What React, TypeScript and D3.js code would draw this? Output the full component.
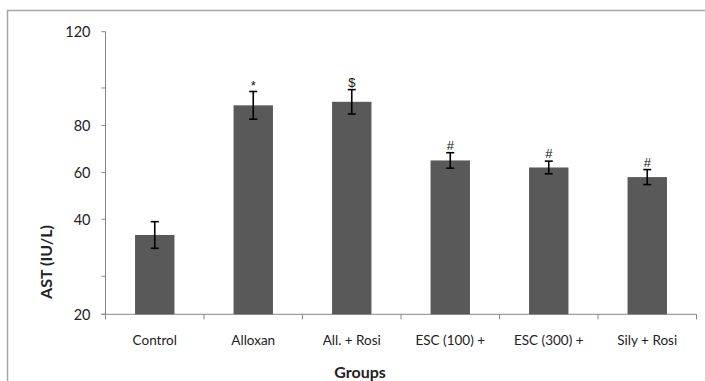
import { useEffect, useRef } from "react";
import * as d3 from "d3";

const groups = ["Control", "Alloxan", "All. + Rosi", "ESC (100) +", "ESC (300) +", "Sily + Rosi"];
const meanAST = [36.7, 88.6, 90.1, 65.1, 62.1, 58.0];
const sdAST = [2.8, 5.9, 5.2, 3.3, 2.7, 3.2];
const marks = ["", "*", "$", "#", "#", "#"];
const yTickLabels = [20, 40, 60, 80, 120];
const yTickMinor = [28, 96];

const W = 705;
const H = 381;

export default function App() {
  const ref = useRef<SVGSVGElement | null>(null);

  useEffect(() => {
    const svg = d3.select(ref.current);
    svg.selectAll("*").remove();

    const left = 105.5;
    const right = 696.5;
    const top = 31.7;
    const bottom = 314.3;
    const font = "Lato, 'Open Sans', sans-serif";

    // outer chart frame (cropped on right/bottom)
    svg
      .append("rect")
      .attr("x", 7.5)
      .attr("y", 10.5)
      .attr("width", W + 20)
      .attr("height", H + 20)
      .attr("fill", "#fff")
      .attr("stroke", "#a6a6a6")
      .attr("stroke-width", 1.5);

    const x = d3
      .scaleBand<string>()
      .domain(groups)
      .range([left, right])
      .paddingInner(0.6)
      .paddingOuter(0.3);
    const step = x.step();

    // the axis in the source is stretched below 40
    const y = d3.scaleLinear().domain([20, 40, 120]).range([bottom, 219.3, top]);

    const g = svg.append("g");

    // y axis
    g.append("line")
      .attr("x1", left)
      .attr("x2", left)
      .attr("y1", top)
      .attr("y2", bottom + 5)
      .attr("stroke", "#868686");
    [...yTickLabels, ...yTickMinor].forEach((v) => {
      g.append("line")
        .attr("x1", left - 4)
        .attr("x2", left)
        .attr("y1", y(v))
        .attr("y2", y(v))
        .attr("stroke", "#868686");
    });
    yTickLabels.forEach((v) => {
      g.append("text")
        .attr("x", left - 15)
        .attr("y", y(v))
        .attr("dy", "0.36em")
        .attr("text-anchor", "end")
        .attr("font-family", font)
        .attr("font-size", 14.5)
        .attr("fill", "#222")
        .text(v);
    });

    // x axis
    g.append("line")
      .attr("x1", left - 4)
      .attr("x2", right)
      .attr("y1", bottom)
      .attr("y2", bottom)
      .attr("stroke", "#868686");
    d3.range(groups.length + 1).forEach((i) => {
      const tx = left + i * step;
      g.append("line")
        .attr("x1", tx)
        .attr("x2", tx)
        .attr("y1", bottom)
        .attr("y2", bottom + 5)
        .attr("stroke", "#868686");
    });

    // bars
    groups.forEach((grp, i) => {
      const bx = x(grp)!;
      const cx = bx + x.bandwidth() / 2;
      g.append("rect")
        .attr("x", bx)
        .attr("y", y(meanAST[i]))
        .attr("width", x.bandwidth())
        .attr("height", bottom - y(meanAST[i]))
        .attr("fill", "#595959");

      const hi = y(meanAST[i] + sdAST[i]);
      const lo = y(meanAST[i] - sdAST[i]);
      const eb = g.append("g").attr("stroke", "#000").attr("stroke-width", 1.6);
      eb.append("line").attr("x1", cx).attr("x2", cx).attr("y1", hi).attr("y2", lo);
      eb.append("line").attr("x1", cx - 4).attr("x2", cx + 4).attr("y1", hi).attr("y2", hi);
      eb.append("line").attr("x1", cx - 4).attr("x2", cx + 4).attr("y1", lo).attr("y2", lo);

      if (marks[i]) {
        g.append("text")
          .attr("x", cx)
          .attr("y", marks[i] === "*" ? hi - 1 : hi - 3)
          .attr("text-anchor", "middle")
          .attr("font-family", "'Liberation Sans', sans-serif")
          .attr("font-size", 13)
          .attr("fill", "#111")
          .text(marks[i]);
      }

      g.append("text")
        .attr("x", cx)
        .attr("y", 345)
        .attr("text-anchor", "middle")
        .attr("font-family", font)
        .attr("font-size", 13.5)
        .attr("fill", "#222")
        .text(grp);
    });

    // axis titles
    g.append("text")
      .attr("x", 360)
      .attr("y", 378)
      .attr("text-anchor", "middle")
      .attr("font-family", font)
      .attr("font-size", 16)
      .attr("font-weight", 700)
      .attr("fill", "#222")
      .text("Groups");
    g.append("text")
      .attr("transform", `translate(52,262) rotate(-90)`)
      .attr("text-anchor", "middle")
      .attr("font-family", font)
      .attr("font-size", 16)
      .attr("font-weight", 700)
      .attr("fill", "#222")
      .text("AST (IU/L)");
  }, []);

  return (
    <svg
      ref={ref}
      width={W}
      height={H}
      viewBox={`0 0 ${W} ${H}`}
      style={{ position: "absolute", left: 0, top: 0, display: "block" }}
    />
  );
}
